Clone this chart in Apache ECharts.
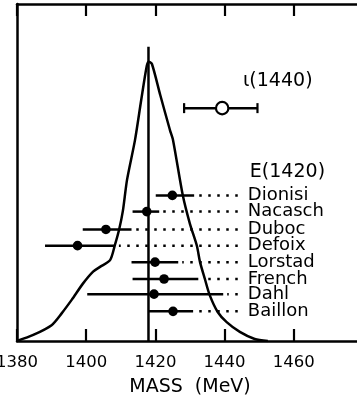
<!DOCTYPE html>
<html><head><meta charset="utf-8">
<script src="https://cdn.jsdelivr.net/npm/echarts/dist/echarts.min.js"></script>
<style>html,body{margin:0;padding:0;background:#fff}#c{width:357px;height:402px}</style>
</head><body><div id="c"></div>
<script>
// Axis
const tickLabels = ['1380', '1400', '1420', '1440', '1460'];
const xMin = 1380, xMax = 1480;

// Mass-spectrum curve (MeV, relative intensity)
const curveMass = [1380.0, 1384.7, 1390.0, 1392.9, 1395.8, 1399.1, 1402.0, 1404.0, 1406.9, 1408.3, 1409.5, 1410.6, 1411.8, 1414.1, 1415.9, 1417.5, 1418.1, 1419.0, 1421.4, 1424.2, 1425.1, 1427.9, 1430.0, 1432.0, 1432.9, 1434.3, 1435.7, 1438.0, 1440.6, 1444.4, 1448.7, 1452.5];
const curveIntensity = [0, 1.8, 4.7, 8.2, 12.2, 17.1, 20.6, 22.0, 24.0, 28.5, 33.0, 38.6, 47.8, 59.6, 71.5, 81.6, 82.9, 82.2, 73.0, 62.6, 59.6, 43.3, 34.7, 28.2, 23.4, 18.4, 13.6, 8.6, 5.6, 2.7, 0.6, 0];

// Vertical reference line
const refMass = 1418;
const refTop = 87.3;

// E(1420) measurements
const expNames = ['Dionisi', 'Nacasch', 'Duboc', 'Defoix', 'Lorstad', 'French', 'Dahl', 'Baillon'];
const expMass = [1424.9, 1417.5, 1405.7, 1397.5, 1419.9, 1422.5, 1419.6, 1425.1];
const expLow  = [1420.1, 1413.4, 1399.0, 1388.1, 1413.1, 1413.4, 1400.3, 1417.9];
const expHigh = [1431.2, 1421.1, 1413.1, 1408.3, 1426.6, 1432.4, 1439.6, 1430.9];
const expLevel = [43.2, 38.4, 33.1, 28.3, 23.4, 18.4, 13.9, 8.8];
const dotEndMass = 1443.8;
const nameMass = 1446.7;

// iota(1440)
const iotaMass = 1439.3, iotaLow = 1428.3, iotaHigh = 1449.5, iotaLevel = 69.1;

// Headings
const headTexts = ['E(1420)', 'ι(1440)'];
const headMass = [1447.3, 1445.3];
const headLevel = [50.2, 77.0];

const FONT = '"DejaVu Sans", sans-serif';
const chart = echarts.init(document.getElementById('c'));

const expData = expNames.map((n, i) => [expMass[i], expLow[i], expHigh[i], expLevel[i]]);
const headData = headTexts.map((t, i) => [headMass[i], headLevel[i]]);

chart.setOption({
  animation: false,
  backgroundColor: '#fff',
  grid: { left: 17, top: 4, height: 337, width: 346, containLabel: false, outerBoundsMode: 'none' },
  xAxis: [{
    type: 'value', min: xMin, max: xMax, interval: 20, position: 'bottom',
    axisLine: { show: true, lineStyle: { color: '#000', width: 2.5 } },
    axisTick: { show: true, inside: true, length: 12, lineStyle: { color: '#000', width: 2.2 } },
    axisLabel: { show: true, margin: 13, color: '#000', fontSize: 16.5, fontFamily: FONT,
      formatter: v => tickLabels.indexOf(String(v)) >= 0 ? String(v) : '' },
    splitLine: { show: false },
    name: 'MASS  (MeV)', nameLocation: 'middle', nameGap: 37,
    nameTextStyle: { color: '#000', fontSize: 19, fontFamily: FONT }
  }, {
    type: 'value', min: xMin, max: xMax, interval: 20, position: 'top',
    axisLine: { show: true, lineStyle: { color: '#000', width: 2.5 } },
    axisTick: { show: true, inside: true, length: 12, lineStyle: { color: '#000', width: 2.2 } },
    axisLabel: { show: false }, splitLine: { show: false }
  }],
  yAxis: {
    type: 'value', min: 0, max: 100,
    axisLine: { show: true, lineStyle: { color: '#000', width: 2.5 } },
    axisTick: { show: false }, axisLabel: { show: false }, splitLine: { show: false }
  },
  series: [{
    type: 'line', data: curveMass.map((m, i) => [m, curveIntensity[i]]),
    showSymbol: false, smooth: 0.25, lineStyle: { color: '#000', width: 2.5 }, z: 2
  }, {
    type: 'line', data: [[refMass, 0], [refMass, refTop]],
    showSymbol: false, lineStyle: { color: '#000', width: 2.5 }, z: 2
  }, {
    type: 'custom', data: expData, encode: { x: [0, 1, 2], y: 3 }, z: 3,
    renderItem: function (params, api) {
      const y = api.value(3);
      const c = api.coord([api.value(0), y]);
      const lo = api.coord([api.value(1), y]);
      const hi = api.coord([api.value(2), y]);
      const de = api.coord([dotEndMass, y]);
      const tx = api.coord([nameMass, y]);
      return { type: 'group', children: [
        { type: 'line', shape: { x1: lo[0], y1: c[1], x2: hi[0], y2: c[1] }, style: { stroke: '#000', lineWidth: 2.5 } },
        { type: 'line', shape: { x1: de[0], y1: c[1], x2: hi[0] + 4, y2: c[1] }, style: { stroke: '#000', lineWidth: 2.5, lineDash: [2.5, 6.5] } },
        { type: 'circle', shape: { cx: c[0], cy: c[1], r: 4.8 }, style: { fill: '#000' } },
        { type: 'text', x: tx[0], y: c[1], style: { text: expNames[params.dataIndex], fill: '#000', font: '18px ' + FONT, align: 'left', verticalAlign: 'middle' } }
      ] };
    }
  }, {
    type: 'custom', data: [[iotaMass, iotaLow, iotaHigh, iotaLevel]], encode: { x: [0, 1, 2], y: 3 }, z: 3,
    renderItem: function (params, api) {
      const y = api.value(3);
      const c = api.coord([api.value(0), y]);
      const lo = api.coord([api.value(1), y]);
      const hi = api.coord([api.value(2), y]);
      return { type: 'group', children: [
        { type: 'line', shape: { x1: lo[0], y1: c[1], x2: hi[0], y2: c[1] }, style: { stroke: '#000', lineWidth: 2.5 } },
        { type: 'line', shape: { x1: lo[0], y1: c[1] - 5, x2: lo[0], y2: c[1] + 5 }, style: { stroke: '#000', lineWidth: 2.2 } },
        { type: 'line', shape: { x1: hi[0], y1: c[1] - 5, x2: hi[0], y2: c[1] + 5 }, style: { stroke: '#000', lineWidth: 2.2 } },
        { type: 'circle', shape: { cx: c[0], cy: c[1], r: 6.2 }, style: { fill: '#fff', stroke: '#000', lineWidth: 2.2 } }
      ] };
    }
  }, {
    type: 'custom', data: headData, encode: { x: 0, y: 1 }, z: 3,
    renderItem: function (params, api) {
      const p = api.coord([api.value(0), api.value(1)]);
      return { type: 'text', x: p[0], y: p[1], style: { text: headTexts[params.dataIndex], fill: '#000', font: '19px ' + FONT, align: 'left', verticalAlign: 'middle' } };
    }
  }]
});
</script></body></html>
